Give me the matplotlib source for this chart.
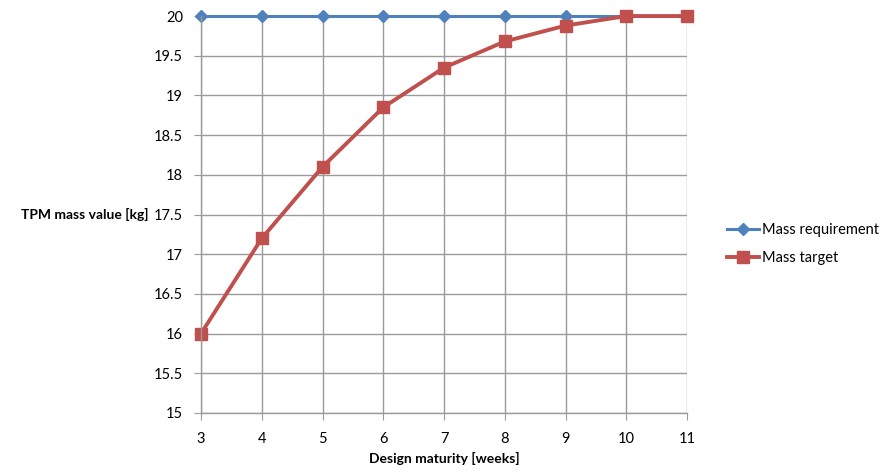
import matplotlib.pyplot as plt

# data
weeks = [3, 4, 5, 6, 7, 8, 9, 10, 11]
mass_requirement = [20, 20, 20, 20, 20, 20, 20, 20, 20]
mass_target = [16.0, 17.2, 18.1, 18.85, 19.35, 19.68, 19.88, 20.0, 20.0]

plt.rcParams['font.family'] = ['Lato', 'DejaVu Sans']

fig = plt.figure(figsize=(8.91, 4.72), dpi=100)
ax = fig.add_axes([0.2256, 0.125, 0.5455, 0.841])

ax.plot(weeks, mass_requirement, color='#4F81BD', lw=2.2, marker='D', ms=6.5,
        label='Mass requirement')
ax.plot(weeks, mass_target, color='#C0504D', lw=2.8, marker='s', ms=9,
        label='Mass target')

ax.set_xlim(3, 11)
ax.set_ylim(15, 20)
ax.set_xticks(range(3, 12))
ax.set_yticks([15 + 0.5 * i for i in range(11)])
ax.set_yticklabels(['15', '15.5', '16', '16.5', '17', '17.5', '18', '18.5', '19', '19.5', '20'])
ax.grid(True, color='#9a9a9a', lw=1)
ax.set_axisbelow(True)
for s in ['top', 'right']:
    ax.spines[s].set_visible(False)
for s in ['left', 'bottom']:
    ax.spines[s].set_color('#9a9a9a')
    ax.spines[s].set_linewidth(1)
ax.tick_params(axis='x', length=5, color='#9a9a9a', pad=9, labelsize=10.5)
ax.tick_params(axis='y', length=5, color='#9a9a9a', pad=8, labelsize=10.5)

ax.set_xlabel('Design maturity [weeks]', fontweight='bold', fontsize=10, labelpad=4)
ax.set_ylabel('TPM mass value [kg]', fontweight='bold', fontsize=10, rotation=0,
              ha='right', va='center')
ax.yaxis.set_label_coords(-0.108, 0.5)

ax.legend(loc='center left', bbox_to_anchor=(1.055, 0.426), frameon=False,
          fontsize=10.5, handlelength=2.2, handletextpad=0.2, labelspacing=1.0)
for line in ax.lines:
    line.set_clip_on(False)

fig.savefig('out.png', dpi=100)
